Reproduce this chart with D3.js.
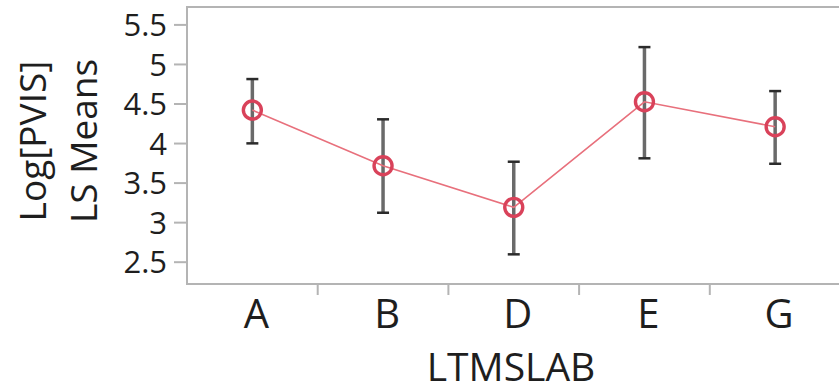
<!DOCTYPE html>
<html>
<head>
<meta charset="utf-8">
<script src="https://cdn.jsdelivr.net/npm/d3@7"></script>
<style>
  body { margin: 0; background: #fff; overflow: hidden; }
  text { font-family: "Open Sans", "Noto Sans", sans-serif; fill: #1e1e1e; }
</style>
</head>
<body>
<div id="chart"></div>
<script>
// LS means plot, LTMSLAB groups

const width = 839;
const height = 391;

var categories = ['A', 'B', 'D', 'E', 'G'];
var means = [4.417, 3.713, 3.187, 4.522, 4.206];
var upper = [4.809, 4.300, 3.764, 5.213, 4.657];
var lower = [3.996, 3.119, 2.593, 3.807, 3.738];
var yTicks = [2.5, 3, 3.5, 4, 4.5, 5, 5.5];

var plotL = 187, plotR = 840.5, plotT = 7, plotB = 284;

var svg = d3.select('#chart')
  .append('svg')
  .attr('width', width)
  .attr('height', height);

var x = d3.scaleBand()
  .domain(categories)
  .range([plotL, plotR])
  .paddingInner(0)
  .paddingOuter(0);

var y = d3.scaleLinear()
  .domain([2.218, 5.72])
  .range([plotB, plotT]);

// frame
svg.append('rect')
  .attr('x', plotL)
  .attr('y', plotT)
  .attr('width', plotR - plotL)
  .attr('height', plotB - plotT)
  .style('fill', 'none')
  .style('stroke', '#b4b4b4')
  .style('stroke-width', 2);

// y axis
var yAxis = svg.append('g')
  .attr('transform', 'translate(' + (plotL - 1) + ',0)')
  .call(d3.axisLeft(y).tickValues(yTicks).tickSize(12).tickPadding(7).tickFormat(d3.format('')));
yAxis.select('.domain').remove();
yAxis.selectAll('line').style('stroke', '#b4b4b4').style('stroke-width', 2);
yAxis.selectAll('text')
  .style('font-size', '31px')
  .style('fill', '#1e1e1e')
  .attr('dy', '0.36em');

// x separators between the groups
svg.selectAll('.sep')
  .data(categories.slice(1))
  .enter().append('line')
  .attr('class', 'sep')
  .attr('x1', d => x(d))
  .attr('x2', d => x(d))
  .attr('y1', plotB)
  .attr('y2', plotB + 11)
  .style('stroke', '#b4b4b4')
  .style('stroke-width', 2);

// x labels
var xAxis = svg.append('g')
  .attr('transform', 'translate(4,' + plotB + ')')
  .call(d3.axisBottom(x).tickSize(0).tickPadding(16));
xAxis.select('.domain').remove();
xAxis.selectAll('text')
  .style('font-size', '40px')
  .style('fill', '#1e1e1e')
  .attr('dy', '0.71em');

// axis titles
svg.append('text')
  .attr('text-anchor', 'middle')
  .attr('x', 511)
  .attr('y', 381)
  .style('font-size', '39px')
  .text('LTMSLAB');

var yTitle = svg.append('text')
  .attr('text-anchor', 'middle')
  .attr('transform', 'translate(46,141) rotate(-90)')
  .style('font-size', '37px');
yTitle.append('tspan').attr('x', 0).attr('y', 0).text('Log[PVIS]');
yTitle.append('tspan').attr('x', 0).attr('y', 51).text('LS Means');

var cx = d => x(d) + x.bandwidth() / 2;

// error bars
var bars = svg.selectAll('.bar')
  .data(categories)
  .enter().append('g')
  .attr('class', 'bar');
bars.append('line')
  .attr('x1', cx).attr('x2', cx)
  .attr('y1', (d, i) => y(upper[i]))
  .attr('y2', (d, i) => y(lower[i]))
  .style('stroke', '#6a6a6a')
  .style('stroke-width', 3.5);
bars.append('line')
  .attr('x1', d => cx(d) - 6).attr('x2', d => cx(d) + 6)
  .attr('y1', (d, i) => y(upper[i])).attr('y2', (d, i) => y(upper[i]))
  .style('stroke', '#2b2b2b')
  .style('stroke-width', 2.5);
bars.append('line')
  .attr('x1', d => cx(d) - 6).attr('x2', d => cx(d) + 6)
  .attr('y1', (d, i) => y(lower[i])).attr('y2', (d, i) => y(lower[i]))
  .style('stroke', '#2b2b2b')
  .style('stroke-width', 2.5);

// means line
var line = d3.line()
  .x((d, i) => cx(categories[i]))
  .y(d => y(d));
svg.append('path')
  .datum(means)
  .attr('d', line)
  .style('fill', 'none')
  .style('stroke', '#e8707c')
  .style('stroke-width', 1.6);

// markers
svg.selectAll('.pt')
  .data(means)
  .enter().append('circle')
  .attr('class', 'pt')
  .attr('cx', (d, i) => cx(categories[i]))
  .attr('cy', d => y(d))
  .attr('r', 9)
  .style('fill', 'none')
  .style('stroke', '#d9425a')
  .style('stroke-width', 3.4);
</script>
</body>
</html>
